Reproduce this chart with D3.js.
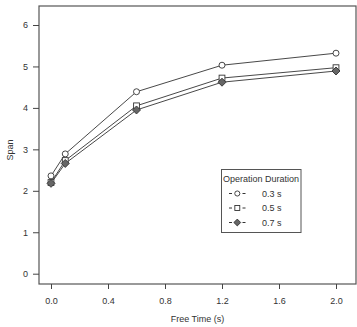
<!DOCTYPE html>
<html>
<head>
<meta charset="utf-8">
<style>
  body { margin: 0; background: white; }
  svg { font-family: 'Liberation Sans', Arial, sans-serif; }
  .axis text { font-size: 9px; fill: #333; }
  .axis line, .axis path { stroke: #444; }
</style>
</head>
<body>
<svg id="chart" width="357" height="327"></svg>
<script src="https://d3js.org/d3.v7.min.js"></script>
<script>
const freeTime = [0.0, 0.1, 0.6, 1.2, 2.0];
const span03 = [2.36, 2.89, 4.39, 5.03, 5.32];
const span05 = [2.2, 2.73, 4.05, 4.72, 4.97];
const span07 = [2.18, 2.66, 3.95, 4.62, 4.89];
const seriesNames = ["0.3 s", "0.5 s", "0.7 s"];
const xTicks = [0.0, 0.4, 0.8, 1.2, 1.6, 2.0];
const yTicks = [0, 1, 2, 3, 4, 5, 6];

const svg = d3.select("#chart");
const box = { left: 39, right: 356, top: 6, bottom: 284 };

const x = d3.scaleLinear().domain([0, 2]).range([51, 336]);
const y = d3.scaleLinear().domain([0, 6]).range([273.7, 25]);

// frame
svg.append("rect")
  .attr("x", box.left).attr("y", box.top)
  .attr("width", box.right - box.left).attr("height", box.bottom - box.top)
  .attr("fill", "none").attr("stroke", "#555").attr("stroke-width", 1.2);

svg.append("g")
  .attr("class", "axis")
  .attr("transform", `translate(0,${box.bottom})`)
  .call(d3.axisBottom(x).tickValues(xTicks).tickFormat(d3.format(".1f")).tickSize(5).tickPadding(9))
  .call(g => g.select(".domain").remove());

svg.append("g")
  .attr("class", "axis")
  .attr("transform", `translate(${box.left},0)`)
  .call(d3.axisLeft(y).tickValues(yTicks).tickFormat(d3.format("d")).tickSize(6).tickPadding(5))
  .call(g => g.select(".domain").remove());

svg.append("text")
  .attr("x", (box.left + box.right) / 2).attr("y", 322)
  .attr("text-anchor", "middle").attr("font-size", 9).attr("fill", "#333")
  .text("Free Time (s)");

svg.append("text")
  .attr("transform", "translate(13,150) rotate(-90)")
  .attr("text-anchor", "middle").attr("font-size", 9).attr("fill", "#333")
  .text("Span");

const series = [
  { name: seriesNames[0], values: span03, shape: "circle" },
  { name: seriesNames[1], values: span05, shape: "square" },
  { name: seriesNames[2], values: span07, shape: "diamond" }
];

const line = d3.line().x(d => x(d[0])).y(d => y(d[1]));

function drawMarker(g, shape, cx, cy, k) {
  k = k || 1;
  if (shape === "circle") {
    g.append("circle").attr("cx", cx).attr("cy", cy).attr("r", 3 * k)
      .attr("fill", "white").attr("stroke", "#333").attr("stroke-width", 0.9);
  } else if (shape === "square") {
    const h = 2.9 * k;
    g.append("rect").attr("x", cx - h).attr("y", cy - h).attr("width", 2 * h).attr("height", 2 * h)
      .attr("fill", "white").attr("stroke", "#333").attr("stroke-width", 0.9);
  } else {
    const s = 4 * k;
    g.append("path")
      .attr("d", `M${cx},${cy - s}L${cx + s},${cy}L${cx},${cy + s}L${cx - s},${cy}Z`)
      .attr("fill", "#666").attr("stroke", "#333").attr("stroke-width", 0.9);
  }
}

series.forEach(s => {
  const pts = freeTime.map((t, i) => [t, s.values[i]]);
  svg.append("path").attr("d", line(pts))
    .attr("fill", "none").attr("stroke", "#333").attr("stroke-width", 0.9);
});
series.forEach(s => {
  const g = svg.append("g");
  freeTime.forEach((t, i) => drawMarker(g, s.shape, x(t), y(s.values[i])));
});

// legend
const lg = svg.append("g");
lg.append("rect").attr("x", 221.5).attr("y", 169.5).attr("width", 79.5).attr("height", 63)
  .attr("fill", "white").attr("stroke", "#555").attr("stroke-width", 1);
lg.append("text").attr("x", 261).attr("y", 182).attr("text-anchor", "middle")
  .attr("font-size", 9).attr("fill", "#333").text("Operation Duration");
series.forEach((s, i) => {
  const ly = 193.5 + i * 14.5;
  lg.append("line").attr("x1", 229).attr("x2", 232).attr("y1", ly).attr("y2", ly).attr("stroke", "#333");
  lg.append("line").attr("x1", 242.5).attr("x2", 245.5).attr("y1", ly).attr("y2", ly).attr("stroke", "#333");
  drawMarker(lg, s.shape, 237.3, ly, 0.85);
  lg.append("text").attr("x", 262).attr("y", ly + 3.2).attr("font-size", 9).attr("fill", "#333").text(s.name);
});
</script>
</body>
</html>
